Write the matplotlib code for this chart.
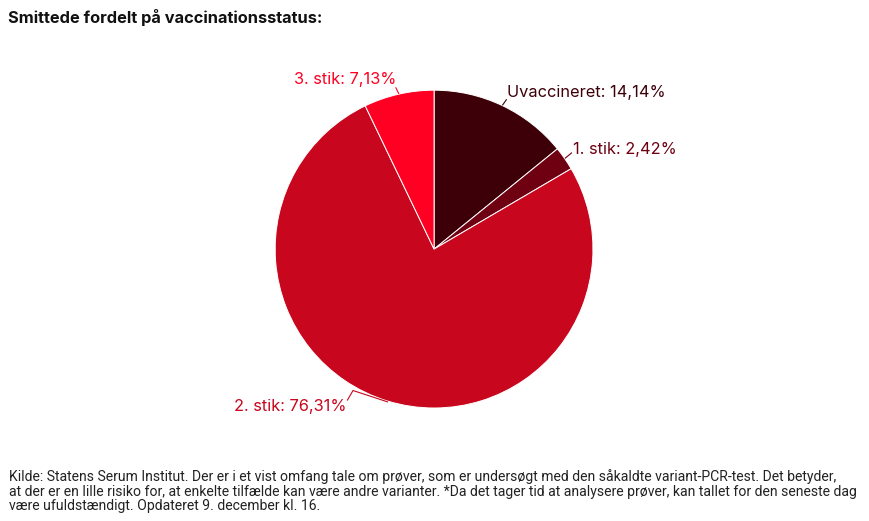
import numpy as np
import matplotlib.pyplot as plt

labels = ["Uvaccineret", "1. stik", "2. stik", "3. stik"]
shares = [14.14, 2.42, 76.31, 7.13]
colors = ["#3d0009", "#6e0012", "#c8061e", "#ff0022"]
text_colors = ["#3d0009", "#6e0012", "#c8061e", "#ff0022"]

title = "Smittede fordelt på vaccinationsstatus:"
footer = ("Kilde: Statens Serum Institut. Der er i et vist omfang tale om prøver, som er undersøgt med den såkaldte variant-PCR-test. Det betyder,\n"
          "at der er en lille risiko for, at enkelte tilfælde kan være andre varianter. *Da det tager tid at analysere prøver, kan tallet for den seneste dag\n"
          "være ufuldstændigt. Opdateret 9. december kl. 16.")

fig = plt.figure(figsize=(8.69, 5.21), dpi=100)
ax = fig.add_axes([0.3165, 0.2169, 0.366, 0.610])

wedges, _ = ax.pie(shares, colors=colors, startangle=90, counterclock=False,
                   wedgeprops=dict(edgecolor="white", linewidth=0.7))
ax.set_xlim(-1, 1)
ax.set_ylim(-1, 1)
ax.set_aspect("equal")

# label placement (data coords, radius = 1)
text_pos = [(0.46, 0.985), (0.875, 0.625), (-0.55, -0.99), (-0.24, 1.07)]
aligns = ["left", "left", "right", "right"]
line_end = [(0.005, -0.045), (0.01, -0.02), (0.0, 0.0), (0.0, -0.055)]

for i, w in enumerate(wedges):
    mid = np.deg2rad((w.theta1 + w.theta2) / 2)
    x0, y0 = np.cos(mid), np.sin(mid)
    tx, ty = text_pos[i]
    num = f"{shares[i]:.2f}".replace(".", ",")
    ax.text(tx, ty, f"{labels[i]}: {num}%", ha=aligns[i], va="center",
            color=text_colors[i], fontsize=11.8, family="Inter", clip_on=False)
    if i == 2:
        xs = [x0 * 1.005, -0.51, tx + 0.005]
        ys = [y0 * 1.005, -0.89, ty + 0.04]
    else:
        ox, oy = line_end[i]
        xs = [x0 * 1.005, tx - ox if aligns[i] == "left" else tx + ox]
        ys = [y0 * 1.005, ty + oy]
    ax.plot(xs, ys, color=text_colors[i], lw=0.8, clip_on=False)

fig.text(8 / 869, 1 - 17 / 521, title, ha="left", va="center",
         fontsize=11.8, fontweight="bold", family="Inter", color="#111111")
fig.text(9 / 869, 1 - 469 / 521, footer, ha="left", va="top",
         fontsize=10.1, family="Roboto", color="#222222", linespacing=1.07)

fig.savefig("out.png", dpi=100)
